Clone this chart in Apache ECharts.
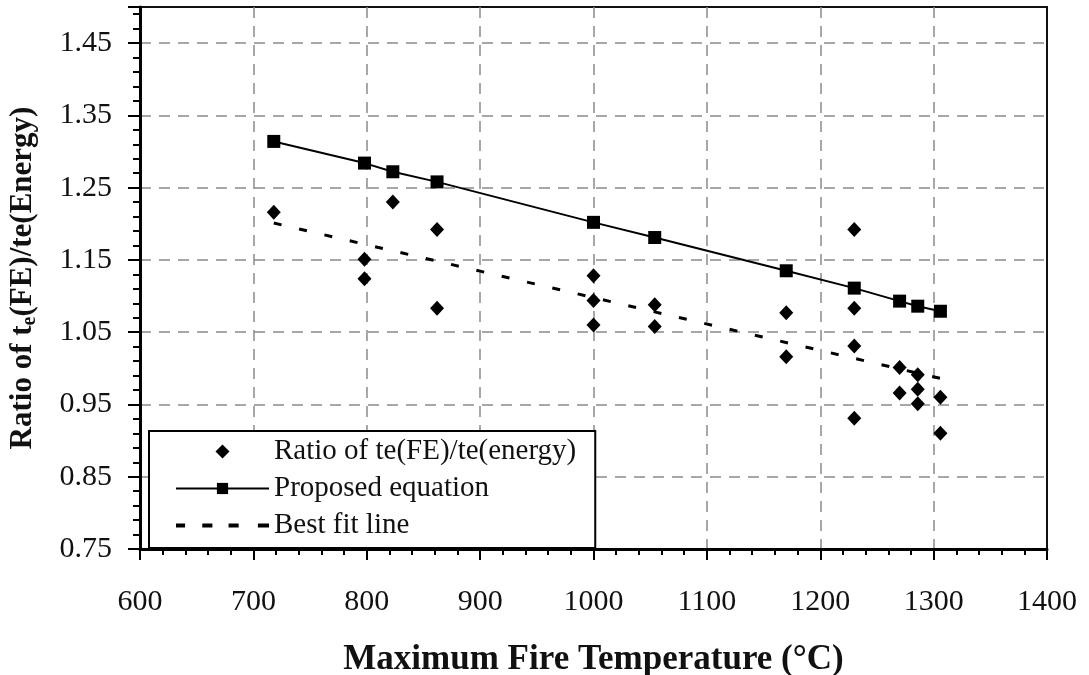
<!DOCTYPE html>
<html>
<head>
<meta charset="utf-8">
<title>Ratio of te(FE)/te(Energy) vs Maximum Fire Temperature</title>
<script src="https://cdn.jsdelivr.net/npm/echarts@6/dist/echarts.min.js"></script>
<style>
  html, body { margin: 0; padding: 0; background: #fff; }
  #chart { width: 1089px; height: 675px; }
</style>
</head>
<body>
<div id="chart"></div>
<script>
// Measured ratios te(FE)/te(energy): [temperature °C, ratio]
const ratioPoints = [
  [718, 1.216],
  [798, 1.151], [798, 1.124],
  [823, 1.230],
  [862, 1.192], [862, 1.083],
  [1000, 1.128], [1000, 1.094], [1000, 1.060],
  [1054, 1.088], [1054, 1.058],
  [1170, 1.077], [1170, 1.016],
  [1230, 1.192], [1230, 1.083], [1230, 1.031], [1230, 0.931],
  [1270, 1.001], [1270, 0.966],
  [1286, 0.991], [1286, 0.971], [1286, 0.951],
  [1306, 0.960], [1306, 0.910]
];

// Proposed equation evaluated at each fire temperature
const proposedPoints = [
  [718, 1.314], [798, 1.284], [823, 1.272], [862, 1.258],
  [1000, 1.202], [1054, 1.181], [1170, 1.135], [1230, 1.111],
  [1270, 1.093], [1286, 1.086], [1306, 1.079]
];

// Linear best fit through the measured ratios (end points)
const bestFitPoints = [[718, 1.201], [1306, 0.986]];

const xTicks = { min: 600, max: 1400, step: 100 };
const yTicks = { min: 0.75, max: 1.5, step: 0.1 };

const seriesNames = ['Ratio of te(FE)/te(energy)', 'Proposed equation', 'Best fit line'];

const serif = '"Liberation Serif", "DejaVu Serif", serif';
const gridDash = { color: '#8a8a8a', width: 1.5, type: [11, 8] };

// Legend glyphs: a square-aspect diamond and a dashed stroke
const diamondIcon = 'path://M7,0L14,7L7,14L0,7Z';
const dashIcon = 'path://M0,0h9v4h-9z M26,0h10v4h-10z M52,0h10v4h-10z M81,0h11v4h-11z';

const chart = echarts.init(document.getElementById('chart'), null, { renderer: 'canvas' });

chart.setOption({
  animation: false,
  backgroundColor: '#fff',
  grid: {
    left: 140, right: 42, top: 7, bottom: 126,
    outerBoundsMode: 'none',
    containLabel: false,
    show: true, borderColor: '#111', borderWidth: 2, backgroundColor: 'transparent'
  },
  legend: {
    orient: 'vertical',
    left: 149, top: 431,
    backgroundColor: '#fff',
    borderColor: '#000', borderWidth: 2,
    padding: [6, 19, 8, 26],
    itemWidth: 93, itemHeight: 14, itemGap: 8,
    textStyle: { fontFamily: serif, fontSize: 29, lineHeight: 29, color: '#111' },
    data: [
      { name: seriesNames[0], icon: diamondIcon },
      { name: seriesNames[1] },
      { name: seriesNames[2], icon: dashIcon }
    ]
  },
  xAxis: {
    type: 'value',
    min: xTicks.min, max: xTicks.max, interval: xTicks.step,
    name: 'Maximum Fire Temperature (°C)',
    nameLocation: 'middle', nameGap: 93,
    nameTextStyle: { fontFamily: serif, fontSize: 35, fontWeight: 'bold', color: '#111' },
    axisLine: { show: true, onZero: false, lineStyle: { color: '#000', width: 3 } },
    axisTick: { show: true, length: 11, lineStyle: { color: '#000', width: 2 } },
    minorTick: { show: true, splitNumber: 5, length: 6, lineStyle: { color: '#000', width: 2 } },
    axisLabel: {
      margin: 38, fontFamily: serif, fontSize: 30, color: '#111',
      formatter: v => String(Math.round(v))
    },
    splitLine: { show: true, showMinLine: false, showMaxLine: false, lineStyle: gridDash }
  },
  yAxis: {
    type: 'value',
    min: yTicks.min, max: yTicks.max, interval: yTicks.step,
    name: 'Ratio of t{sub|e}(FE)/te(Energy)',
    nameLocation: 'middle', nameGap: 100,
    nameTextStyle: {
      fontFamily: serif, fontSize: 31, fontWeight: 'bold', color: '#111', lineHeight: 34,
      rich: { sub: { fontFamily: serif, fontSize: 20, fontWeight: 'bold', color: '#111', verticalAlign: 'bottom', lineHeight: 34 } }
    },
    axisLine: { show: true, onZero: false, lineStyle: { color: '#000', width: 3 } },
    axisTick: { show: true, length: 12, lineStyle: { color: '#000', width: 2 } },
    minorTick: { show: true, splitNumber: 5, length: 7, lineStyle: { color: '#000', width: 2 } },
    axisLabel: {
      margin: 28, fontFamily: serif, fontSize: 30, color: '#111',
      formatter: v => (Math.abs(v - yTicks.max) < 1e-6 ? '' : v.toFixed(2))
    },
    splitLine: { show: true, showMinLine: false, showMaxLine: false, lineStyle: gridDash }
  },
  series: [
    {
      name: seriesNames[0],
      type: 'scatter',
      data: ratioPoints,
      symbol: 'diamond',
      symbolSize: [14, 15],
      itemStyle: { color: '#000', opacity: 1 },
      z: 4
    },
    {
      name: seriesNames[1],
      type: 'line',
      data: proposedPoints,
      symbol: 'rect',
      symbolSize: 13,
      showAllSymbol: true,
      lineStyle: { color: '#000', width: 2 },
      itemStyle: { color: '#000' },
      z: 3
    },
    {
      name: seriesNames[2],
      type: 'line',
      data: bestFitPoints,
      symbol: 'none',
      lineStyle: { color: '#000', width: 3, type: [8, 18] },
      itemStyle: { color: '#000' },
      z: 2
    }
  ]
});
</script>
</body>
</html>
